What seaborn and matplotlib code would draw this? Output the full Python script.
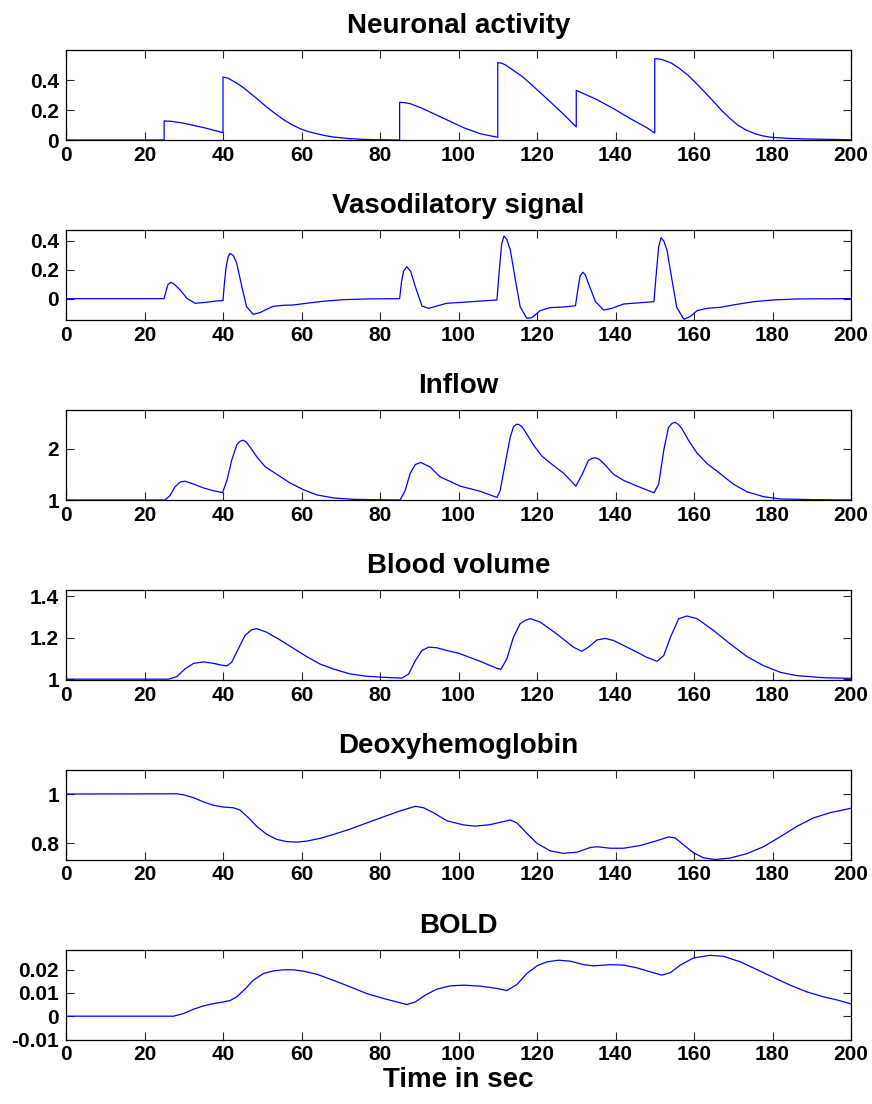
import matplotlib
matplotlib.use("Agg")
import matplotlib.pyplot as plt
import seaborn as sns

# ---------------- data ----------------
titles = ["Neuronal activity", "Vasodilatory signal", "Inflow",
          "Blood volume", "Deoxyhemoglobin", "BOLD"]

x_ticks = [0, 20, 40, 60, 80, 100, 120, 140, 160, 180, 200]
x_ticklabels = ["0", "20", "40", "60", "80", "100", "120", "140", "160", "180", "200"]

t_neu = [0, 25, 25, 27, 30, 35, 40, 40, 41.3, 42.6, 43.7, 44.8, 46.9, 49.0, 51.1, 53.3, 55.4,
         57.5, 59.6, 61.7, 63.9, 66.0, 68.1, 72.4, 76, 80, 85, 85, 86.3, 87.7, 90.7, 93.6,
         97.9, 101.3, 105.5, 110, 110, 111, 112, 114, 116.2, 118.3, 120.4, 122.5, 124.7,
         126.8, 130, 130, 135.3, 139.5, 143.8, 148, 150, 150, 151, 152, 154.2, 156.3, 158.5,
         160.6, 162.7, 164.9, 167, 169.1, 171.2, 173.3, 175.5, 177.6, 179.7, 184, 188.2, 200]
v_neu = [0, 0, 0.127, 0.124, 0.112, 0.083, 0.049, 0.42, 0.412, 0.393, 0.376, 0.357, 0.313,
         0.268, 0.22, 0.176, 0.136, 0.103, 0.076, 0.056, 0.042, 0.029, 0.02, 0.009, 0.004,
         0.002, 0.0, 0.251, 0.249, 0.242, 0.212, 0.176, 0.124, 0.082, 0.042, 0.018, 0.516,
         0.512, 0.500, 0.464, 0.424, 0.376, 0.326, 0.276, 0.222, 0.171, 0.087, 0.331, 0.269,
         0.209, 0.142, 0.082, 0.047, 0.542, 0.540, 0.535, 0.513, 0.477, 0.431, 0.377, 0.32,
         0.259, 0.198, 0.145, 0.098, 0.066, 0.042, 0.027, 0.018, 0.011, 0.007, 0.002]

t_vaso = [0, 25, 25.6, 26.0, 26.7, 27.6, 29.1, 30.8, 32.9, 35.5, 38, 40, 40.4, 40.8, 41.3,
          41.8, 42.6, 43.5, 44.8, 46, 47.7, 49.4, 51.1, 52.8, 55.4, 57.9, 61.3, 65.6, 70.7,
          76.6, 85, 85.5, 86.0, 86.8, 87.8, 89, 90.7, 92.4, 94.5, 97, 101.3, 105.5, 109.8,
          110.4, 111.0, 111.6, 112.3, 113.2, 114.5, 115.7, 117.4, 118.7, 120.8, 123.4, 126.8,
          129.8, 130.5, 131.0, 131.7, 132.3, 133.1, 134.9, 137, 139.1, 142.1, 145.5, 149.8,
          150.4, 151.0, 151.6, 152.3, 153.1, 154.4, 155.6, 157.4, 159, 160.8, 163.3, 166.7,
          171, 175.2, 180.3, 186.2, 200]
v_vaso = [0, 0, 0.065, 0.098, 0.113, 0.100, 0.060, 0.002, -0.032, -0.026, -0.017, -0.013,
          0.120, 0.220, 0.290, 0.314, 0.300, 0.245, 0.083, -0.055, -0.109, -0.097, -0.074,
          -0.053, -0.046, -0.044, -0.032, -0.018, -0.007, -0.002, 0.0, 0.120, 0.190, 0.222,
          0.190, 0.083, -0.051, -0.067, -0.051, -0.032, -0.025, -0.017, -0.009, 0.200, 0.380,
          0.435, 0.410, 0.338, 0.129, -0.055, -0.136, -0.132, -0.083, -0.062, -0.058, -0.049,
          0.080, 0.160, 0.183, 0.165, 0.106, -0.021, -0.079, -0.067, -0.037, -0.030, -0.021,
          0.180, 0.360, 0.423, 0.400, 0.338, 0.129, -0.060, -0.143, -0.125, -0.083, -0.067,
          -0.060, -0.039, -0.021, -0.009, -0.002, 0.0]

t_inflow = [0, 25.2, 26.5, 27.8, 29.1, 30.3, 32.5, 35, 37.6, 39.9, 41, 42.2, 43.5, 44.3, 45.2,
            46.0, 46.9, 48.6, 50.7, 53.7, 57.1, 60.5, 63.9, 68.1, 73.2, 78.3, 85.1, 86.4, 87.7,
            89, 90.4, 92.8, 95.3, 97.9, 100.4, 105.5, 109.8, 110.6, 111.9, 113.2, 114, 114.7,
            115.3, 116.1, 117, 119.1, 121.3, 124.2, 126.8, 129.9, 131.4, 133.1, 134.0, 134.9,
            135.9, 137, 139.5, 142.1, 145.5, 149.8, 151, 152.3, 153.5, 154.4, 155.2, 156.0,
            156.9, 158.6, 160.7, 163.3, 166.7, 170, 173.5, 177.7, 182, 190.5, 200]
v_inflow = [1, 1, 1.085, 1.26, 1.35, 1.366, 1.31, 1.235, 1.18, 1.144, 1.38, 1.77, 2.07, 2.14,
            2.163, 2.12, 2.03, 1.84, 1.65, 1.5, 1.33, 1.2, 1.1, 1.04, 1.013, 1.007, 1.0, 1.18,
            1.52, 1.69, 1.73, 1.64, 1.45, 1.36, 1.27, 1.17, 1.05, 1.18, 1.71, 2.23, 2.42, 2.47,
            2.47, 2.43, 2.33, 2.07, 1.85, 1.67, 1.52, 1.27, 1.48, 1.77, 1.81, 1.82, 1.79, 1.71,
            1.5, 1.38, 1.27, 1.14, 1.31, 1.97, 2.41, 2.49, 2.51, 2.47, 2.39, 2.16, 1.92, 1.71,
            1.51, 1.31, 1.16, 1.065, 1.02, 1.007, 1.0]

t_vol = [0, 26.1, 28.2, 30.3, 32.5, 35, 37.6, 39.7, 41, 42.2, 43.9, 45.6, 47.3, 48.6, 51.1,
         54.5, 57.9, 61.3, 64.7, 68.1, 72.4, 76.6, 80.9, 85.6, 87.3, 89, 90.7, 92.4, 94.5, 97,
         100.0, 105.5, 109.8, 110.8, 112.3, 114, 115.7, 117.0, 118.3, 120.8, 125, 129.3, 131.4,
         133.1, 135.3, 137.4, 139.5, 143.8, 148, 150.6, 152.3, 154, 156.1, 158.2, 160.8, 165,
         169.2, 173.5, 177.7, 182, 186.2, 193, 200]
v_vol = [1.001, 1.001, 1.013, 1.05, 1.077, 1.084, 1.077, 1.068, 1.065, 1.082, 1.147, 1.211,
         1.239, 1.244, 1.227, 1.19, 1.15, 1.11, 1.074, 1.05, 1.026, 1.015, 1.01, 1.006, 1.026,
         1.09, 1.139, 1.155, 1.152, 1.139, 1.126, 1.087, 1.053, 1.048, 1.098, 1.203, 1.268,
         1.284, 1.292, 1.276, 1.219, 1.155, 1.135, 1.155, 1.19, 1.197, 1.187, 1.147, 1.106,
         1.087, 1.115, 1.203, 1.292, 1.305, 1.292, 1.235, 1.171, 1.11, 1.066, 1.034, 1.018,
         1.008, 1.005]

t_deoxy = [0, 28.2, 29.9, 32.5, 35, 37.6, 40.1, 42.6, 44.3, 46.5, 48.6, 51.1, 53.7, 56.2,
           58.8, 61.3, 64.7, 68.1, 72.4, 76.6, 80.9, 85.1, 89, 91.1, 93.6, 97, 101.3, 104.2,
           108, 111.5, 113.2, 114.9, 117.4, 120, 123.4, 126.8, 130.2, 133.6, 135.3, 138.7,
           142.1, 146.3, 150.6, 153.5, 155.2, 157.4, 159.9, 162.4, 165.4, 169.2, 173.5, 177.7,
           182, 186.2, 190.5, 194.7, 200]
v_deoxy = [1.0, 1.001, 0.997, 0.985, 0.968, 0.954, 0.947, 0.944, 0.935, 0.903, 0.868, 0.836,
           0.815, 0.806, 0.804, 0.808, 0.819, 0.835, 0.857, 0.882, 0.907, 0.931, 0.95, 0.944,
           0.924, 0.891, 0.874, 0.869, 0.875, 0.888, 0.894, 0.882, 0.84, 0.799, 0.768, 0.758,
           0.763, 0.782, 0.785, 0.779, 0.779, 0.79, 0.81, 0.825, 0.821, 0.792, 0.76, 0.74,
           0.733, 0.739, 0.757, 0.785, 0.826, 0.868, 0.903, 0.924, 0.942]

t_bold = [0, 27.4, 29.9, 32.5, 35, 37.6, 40.1, 41.8, 43.5, 45.6, 47.7, 50.3, 52.8, 55.4, 57.9,
          60.5, 63.9, 68.1, 72.4, 76.6, 80.9, 84.3, 86.8, 89, 91.5, 94.5, 97.9, 101.3, 105.5,
          109.8, 112.3, 114.9, 117.4, 120, 122.5, 125.5, 128.5, 131.9, 134.4, 138.7, 142.1,
          145.5, 148.9, 151.8, 154, 156.5, 159.9, 164.1, 167.5, 171.8, 176, 180.3, 184.5,
          188.8, 193, 196.6, 200]
v_bold = [0.0, 0.0, 0.0011, 0.003, 0.0044, 0.0054, 0.0061, 0.0067, 0.0083, 0.0116, 0.0154,
          0.0183, 0.0194, 0.0199, 0.0199, 0.0193, 0.018, 0.0154, 0.0126, 0.0097, 0.0076, 0.0061,
          0.005, 0.0061, 0.009, 0.0116, 0.013, 0.0133, 0.0129, 0.0119, 0.011, 0.0136, 0.0183,
          0.0216, 0.0233, 0.024, 0.0236, 0.0221, 0.0216, 0.0221, 0.0219, 0.0207, 0.019, 0.0176,
          0.0187, 0.0219, 0.025, 0.0261, 0.0257, 0.0233, 0.02, 0.0166, 0.0133, 0.0104, 0.0083,
          0.0069, 0.0053]

y_ticks = [[0, 0.2, 0.4], [0, 0.2, 0.4], [1, 2], [1, 1.2, 1.4], [0.8, 1],
           [-0.01, 0, 0.01, 0.02]]
y_ticklabels = [["0", "0.2", "0.4"], ["0", "0.2", "0.4"], ["1", "2"], ["1", "1.2", "1.4"],
                ["0.8", "1"], ["-0.01", "0", "0.01", "0.02"]]
y_limits = [(0, 0.6), (-0.148, 0.476), (1, 2.75), (0.997, 1.43), (0.733, 1.1),
            (-0.01, 0.0286)]

series = [(t_neu, v_neu), (t_vaso, v_vaso), (t_inflow, v_inflow), (t_vol, v_vol),
          (t_deoxy, v_deoxy), (t_bold, v_bold)]

# ---------------- style ----------------
sns.set_theme(style="white")
plt.rcParams["font.family"] = ["Liberation Sans", "DejaVu Sans"]
plt.rcParams.update({
    "text.color": "black", "axes.labelcolor": "black", "axes.titlecolor": "black",
    "xtick.direction": "in", "ytick.direction": "in",
    "xtick.top": True, "ytick.right": True,
    "xtick.bottom": True, "ytick.left": True,
    "xtick.major.size": 6, "ytick.major.size": 6,
    "xtick.major.width": 0.8, "ytick.major.width": 0.8,
    "xtick.color": "#262626", "ytick.color": "#262626",
    "xtick.labelcolor": "black", "ytick.labelcolor": "black",
    "axes.edgecolor": "black", "axes.linewidth": 0.9,
})

fig = plt.figure(figsize=(8.72, 11.04), dpi=100)
W, H = 872.0, 1104.0
tops = [50, 230, 410, 590, 769.5, 949.5]
left, width, height = 66.0, 785.0, 90.0

for i in range(6):
    top = tops[i]
    ax = fig.add_axes([left / W, 1 - (top + height) / H, width / W, height / H])
    t, v = series[i]
    sns.lineplot(x=t, y=v, ax=ax, estimator=None, sort=False, color="#0000ff",
                 linewidth=0.9, zorder=3)
    ax.set_xlim(0, 200)
    ax.set_ylim(*y_limits[i])
    ax.set_xticks(x_ticks)
    ax.set_xticklabels(x_ticklabels, fontsize=15, fontweight="bold", color="black")
    ax.set_yticks(y_ticks[i])
    ax.set_yticklabels(y_ticklabels[i], fontsize=15, fontweight="bold", color="black")
    ax.tick_params(axis="x", pad=4)
    ax.tick_params(axis="y", pad=5)
    ax.set_title(titles[i], fontsize=20, fontweight="bold", pad=12, color="black")
    ax.set_xlabel("")
    ax.set_ylabel("")
    for s in ax.spines.values():
        s.set_visible(True)
    if i == 5:
        ax.set_xlabel("Time in sec", fontsize=20, fontweight="bold", labelpad=2,
                      color="black")

fig.savefig("out.png", dpi=100)
